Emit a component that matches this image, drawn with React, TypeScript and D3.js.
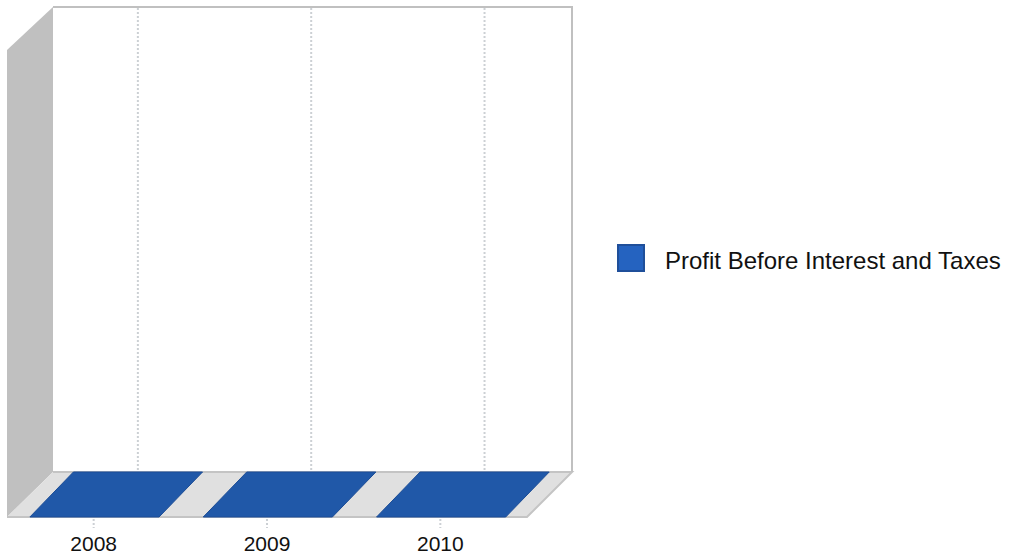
import React from "react";
import * as d3 from "d3";

const categories = ["2008", "2009", "2010"];
const profitValues = [0, 0, 0];
const seriesName = "Profit Before Interest and Taxes";

const FONT = "'Liberation Sans', Arial, sans-serif";

// Projection of the 3D plot box: front face corner plus the depth offset to the back wall.
const front = { left: 7, right: 527, bottom: 517, top: 50 };
const depth = { dx: 46, dy: -45 };

const x = d3.scaleBand<string>().domain(categories).range([front.left, front.right]);
const y = d3.scaleLinear().domain([0, 1]).range([front.bottom, front.top]);
const barWidth = x.bandwidth() * 0.745;
const barDepth = 43.5;
const barNudge = 0.8;

const poly = (pts: [number, number][]) => (d3.line()(pts) ?? "") + "Z";

export default function App() {
  const backLeft = front.left + depth.dx;
  const backRight = front.right + depth.dx - 1;
  const backTop = front.top + depth.dy + 2;
  const backBottom = front.bottom + depth.dy;

  return (
    <svg
      width={1010}
      height={560}
      style={{ position: "absolute", left: 0, top: 0, fontFamily: FONT }}
    >
      <rect width={1010} height={560} fill="#ffffff" />

      {/* side wall */}
      <path
        d={poly([
          [front.left, front.top],
          [backLeft, backTop],
          [backLeft, backBottom],
          [front.left, front.bottom],
        ])}
        fill="#c0c0c0"
      />

      {/* floor */}
      <path
        d={poly([
          [front.left, front.bottom],
          [backLeft, backBottom],
          [backRight, backBottom],
          [front.right, front.bottom],
        ])}
        fill="#e0e0e0"
      />
      <path
        d={`M${backLeft},${backBottom}H${backRight}L${front.right},${front.bottom}H${front.left}`}
        fill="none"
        stroke="#c4c4c4"
        strokeWidth={2}
      />

      {/* back wall edges */}
      <path
        d={`M${backLeft},${backTop}H${backRight}V${backBottom}`}
        fill="none"
        stroke="#c0c0c0"
        strokeWidth={2}
      />

      {/* category grid lines on the back wall */}
      {categories.map((c) => {
        const cx = (x(c) as number) + x.bandwidth() / 2 + depth.dx - 1.8;
        return (
          <line
            key={`grid-${c}`}
            x1={cx}
            x2={cx}
            y1={backTop + 1}
            y2={backBottom - 1}
            stroke="#ccd0d4"
            strokeWidth={2}
            strokeDasharray="2 2"
          />
        );
      })}

      {/* bars: a flat top face sits on the floor when the value is zero */}
      {categories.map((c, i) => {
        const cx = (x(c) as number) + x.bandwidth() / 2 + barNudge;
        const l = cx - barWidth / 2;
        const r = cx + barWidth / 2;
        const yv = y(profitValues[i]);
        return (
          <path
            key={`bar-${c}`}
            d={poly([
              [l, yv],
              [l + barDepth, yv + depth.dy],
              [r + barDepth, yv + depth.dy],
              [r, yv],
            ])}
            fill="#2058a8"
            stroke="#1c4d96"
            strokeWidth={1}
          />
        );
      })}

      {/* category ticks and labels */}
      {categories.map((c) => {
        const cx = (x(c) as number) + x.bandwidth() / 2;
        return (
          <g key={`tick-${c}`}>
            <line
              x1={cx}
              x2={cx}
              y1={front.bottom + 2}
              y2={front.bottom + 11}
              stroke="#ccd0d4"
              strokeWidth={2}
              strokeDasharray="2 2"
            />
            <text x={cx} y={551} textAnchor="middle" fontSize={21} fill="#111111">
              {c}
            </text>
          </g>
        );
      })}

      {/* legend */}
      <rect x={618} y={245} width={26} height={26} fill="#2563c0" stroke="#1f4f9a" strokeWidth={2} />
      <text x={665} y={269} fontSize={24} fill="#111111">
        {seriesName}
      </text>
    </svg>
  );
}
